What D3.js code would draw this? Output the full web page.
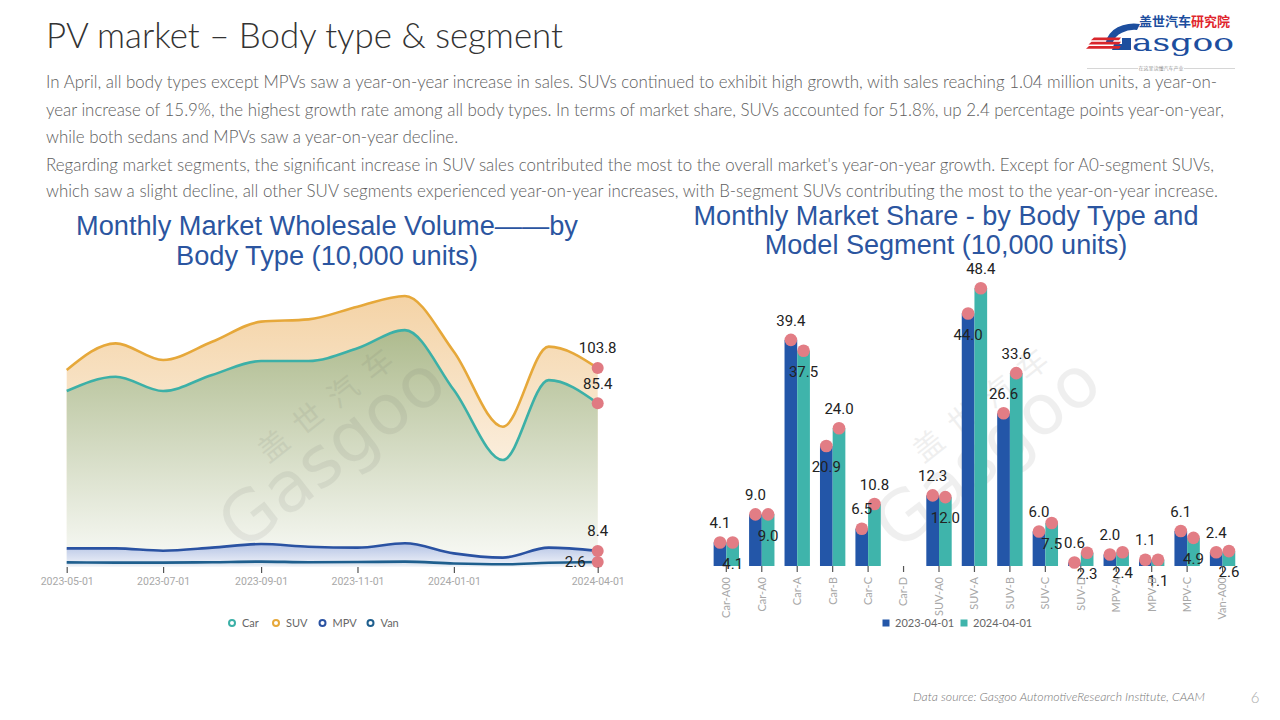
<!DOCTYPE html>
<html><head><meta charset="utf-8">
<script src="https://cdn.jsdelivr.net/npm/d3@7"></script>
<style>
html,body{margin:0;padding:0;background:#fff;}
svg{display:block;}
</style></head><body>
<svg id="c" width="1280" height="720"></svg>
<script>
// ---------- DATA ----------
const months = ["2023-05-01","2023-06-01","2023-07-01","2023-08-01","2023-09-01","2023-10-01",
                "2023-11-01","2023-12-01","2024-01-01","2024-02-01","2024-03-01","2024-04-01"];
const carVol = [91.8, 99.3, 91.8, 100.2, 107.5, 107.5, 114.1, 123.6, 92.3, 55.8, 97.5, 85.4];
const suvVol = [102.8, 116.7, 108.0, 117.5, 128.0, 129.2, 135.8, 141.4, 112.3, 73.2, 115.0, 103.8];
const mpvVol = [9.7, 9.7, 8.5, 10.1, 12.0, 10.6, 10.1, 12.4, 7.1, 4.9, 10.1, 8.4];
const vanVol = [2.4, 2.3, 2.3, 2.5, 2.8, 2.5, 2.6, 2.8, 1.8, 1.4, 2.2, 2.6];
const timeTicks = ["2023-05-01","2023-07-01","2023-09-01","2023-11-01","2024-01-01","2024-04-01"];
const bodySeries = ["Car","SUV","MPV","Van"];

const segments = ["Car-A00","Car-A0","Car-A","Car-B","Car-C","Car-D","SUV-A0","SUV-A","SUV-B",
                  "SUV-C","SUV-D","MPV-A","MPV-B","MPV-C","Van-A00"];
const seg2023 = [4.1, 9.0, 39.4, 20.9, 6.5, null, 12.3, 44.0, 26.6, 6.0, 0.6, 2.0, 1.1, 6.1, 2.4];
const seg2024 = [4.1, 9.0, 37.5, 24.0, 10.8, null, 12.0, 48.4, 33.6, 7.5, 2.3, 2.4, 1.1, 4.9, 2.6];
const segSeries = ["2023-04-01","2024-04-01"];

// label placement config (t = above point, b = below point)
const side2023 = ["t","t","t","b","t","t","t","b","t","t","t","t","t","t","t"];
const side2024 = ["b","b","b","t","t","b","b","t","t","b","b","b","b","b","b"];

const paragraph = [
 "In April, all body types except MPVs saw a year-on-year increase in sales. SUVs continued to exhibit high growth, with sales reaching 1.04 million units, a year-on-",
 "year increase of 15.9%, the highest growth rate among all body types. In terms of market share, SUVs accounted for 51.8%, up 2.4 percentage points year-on-year,",
 "while both sedans and MPVs saw a year-on-year decline.",
 "Regarding market segments, the significant increase in SUV sales contributed the most to the overall market's year-on-year growth. Except for A0-segment SUVs,",
 "which saw a slight decline, all other SUV segments experienced year-on-year increases, with B-segment SUVs contributing the most to the year-on-year increase."
];

// ---------- SETUP ----------
const svg = d3.select("#c");
const FONT = "Lato, 'Noto Sans', sans-serif";
const TFONT = "'Liberation Sans', Arial, sans-serif";
const NUMF = "Roboto, 'Noto Sans', sans-serif";
const defs = svg.append("defs");

function fitWidth(sel, w){
  const cur = sel.node().getComputedTextLength();
  const fs = parseFloat(sel.attr("font-size"));
  sel.attr("font-size", (fs*w/cur).toFixed(2));
  return sel;
}

// ---------- HEADER ----------
const title = svg.append("text").attr("x",46).attr("y",48).attr("font-family",FONT)
  .attr("font-weight",300).attr("font-size",32).attr("fill","#333")
  .text("PV market \u2013 Body type & segment");
fitWidth(title, 517);

const paraBase = [88, 115.5, 143, 170.5, 197];
const paraEnd = [1217, 1224, null, 1214, 1218];
let pfs = null;
paragraph.forEach((line,i)=>{
  const t = svg.append("text").attr("x",46).attr("y",paraBase[i]).attr("font-family",FONT)
    .attr("font-weight",300).attr("font-size",15).attr("fill","#5e5e5e").text(line);
  if(i===0){ fitWidth(t, paraEnd[0]-46); pfs = t.attr("font-size"); }
  else t.attr("font-size", pfs);
  if(paraEnd[i]) t.attr("textLength", paraEnd[i]-46).attr("lengthAdjust","spacing");
});

// logo
const logo = svg.append("g");
logo.append("text").attr("x",1139).attr("y",26).attr("font-family","'Noto Sans CJK SC'")
  .attr("font-weight",700).attr("font-size",13)
  .call(t=>{t.append("tspan").attr("fill","#1d4e9e").text("盖世汽车");
           t.append("tspan").attr("fill","#e0262d").text("研究院");});
logo.append("path").attr("d","M1106,42 A28,21 0 0 1 1140,24 L1137,30 A22,16 0 0 0 1113,42 Z").attr("fill","#1d4e9e");
logo.append("path").attr("d","M1112,50 L1131,50 L1131,38 L1122,38 L1122,44 L1114,44 Z").attr("fill","#1d4e9e");
[0,1,2].forEach(k=>{
  logo.append("path").attr("d",`M${1094-k*2.5},${37.5+k*4.3} L${1121},${37.5+k*4.3} L${1119},${40.2+k*4.3} L${1091-k*2.5},${40.2+k*4.3} Z`).attr("fill","#d9262c");
});
logo.append("text").attr("x",1132).attr("y",51).attr("font-family","'DejaVu Serif'")
  .attr("font-size",24).attr("fill","#1d4e9e").attr("textLength",102).attr("lengthAdjust","spacingAndGlyphs").text("asgoo");
logo.append("line").attr("x1",1087).attr("x2",1235).attr("y1",68.5).attr("y2",68.5).attr("stroke","#bbb").attr("stroke-width",0.6);
logo.append("rect").attr("x",1138).attr("y",65).attr("width",46).attr("height",7).attr("fill","#fff");
logo.append("text").attr("x",1161).attr("y",70).attr("text-anchor","middle").attr("font-family","'Noto Sans CJK SC'")
  .attr("font-size",5).attr("fill","#999").text("在这里读懂汽车产业");

// watermarks
function watermark(cx, cy){
  const g = svg.append("g").attr("transform",`translate(${cx},${cy}) rotate(-38)`).attr("opacity",0.085);
  g.append("text").attr("x",-20).attr("y",-34).attr("font-family","'Noto Sans CJK SC'").attr("font-size",30)
    .attr("letter-spacing",14).attr("fill","#555").text("盖世汽车");
  g.append("text").attr("x",-95).attr("y",20).attr("font-family","'DejaVu Sans'").attr("font-size",70)
    .attr("fill","#555").text("Gasgoo");
}

// ---------- LEFT CHART ----------
const parse = d3.timeParse("%Y-%m-%d");
const dates = months.map(parse);
const xL = d3.scaleTime().domain([parse(months[0]), parse(months[months.length-1])]).range([66.7, 597.7]);
const yL = d3.scaleLinear().domain([0,150]).range([567, 279.5]);

const lt1 = svg.append("text").attr("x",327).attr("y",235).attr("text-anchor","middle")
  .attr("font-family",TFONT).attr("font-size",26).attr("fill","#2b55a0")
  .text("Monthly Market Wholesale Volume\u2014\u2014by");
fitWidth(lt1, 502);
svg.append("text").attr("x",327).attr("y",265).attr("text-anchor","middle")
  .attr("font-family",TFONT).attr("font-size",lt1.attr("font-size")).attr("fill","#2b55a0")
  .text("Body Type (10,000 units)");

const colors = {Car:"#3cb0a7", SUV:"#e6a83a", MPV:"#2a52a2", Van:"#1f5f8e"};
const seriesVals = {Car:carVol, SUV:suvVol, MPV:mpvVol, Van:vanVol};

function grad(id, y1, y2, c1, c2){
  const g = defs.append("linearGradient").attr("id",id).attr("gradientUnits","userSpaceOnUse")
    .attr("x1",0).attr("x2",0).attr("y1",y1).attr("y2",y2);
  g.append("stop").attr("offset",0).attr("stop-color",c1);
  g.append("stop").attr("offset",1).attr("stop-color",c2);
}
grad("gSUV", yL(d3.max(suvVol)), yL(0), "#f4d3a6", "#ffffff");
grad("gCar", yL(d3.max(carVol)), yL(0), "#aebb8e", "#fafbf8");
grad("gMPV", yL(d3.max(mpvVol)), yL(0), "#b3c2e4", "#f3f5fa");
grad("gVan", yL(d3.max(vanVol)), yL(0), "#c9d6e6", "#f6f8fb");

const curve = d3.curveMonotoneX;
const area = vals => d3.area().x((d,i)=>xL(dates[i])).y0(yL(0)).y1(d=>yL(d)).curve(curve)(vals);
const line = vals => d3.line().x((d,i)=>xL(dates[i])).y(d=>yL(d)).curve(curve)(vals);

const L = svg.append("g");
L.append("path").attr("d",area(suvVol)).attr("fill","url(#gSUV)");
L.append("path").attr("d",area(carVol)).attr("fill","url(#gCar)");
L.append("path").attr("d",area(mpvVol)).attr("fill","url(#gMPV)");
L.append("path").attr("d",area(vanVol)).attr("fill","url(#gVan)");
watermark(305, 478);
["SUV","Car","MPV","Van"].forEach(k=>{
  L.append("path").attr("d",line(seriesVals[k])).attr("fill","none")
    .attr("stroke",colors[k]).attr("stroke-width",2.6);
});

// x axis (ticks + labels)
const xAxisL = d3.axisBottom(xL).tickValues(timeTicks.map(parse)).tickFormat(d3.timeFormat("%Y-%m-%d"))
  .tickSize(6).tickPadding(5);
const gxL = svg.append("g").attr("transform",`translate(0,${yL(0)})`).call(xAxisL);
gxL.select(".domain").remove();
gxL.selectAll(".tick line").attr("stroke","#555").attr("stroke-width",1.2);
gxL.selectAll(".tick text").attr("fill","#a8a8a8").attr("font-family",NUMF).attr("font-size",10.5);

// end markers & labels
const last = months.length-1;
const endX = xL(dates[last]);
bodySeries.forEach(k=>{
  const v = seriesVals[k][last];
  L.append("circle").attr("cx",endX).attr("cy",yL(v)).attr("r",6).attr("fill","#e07a82");
});
["SUV","Car","MPV"].forEach(k=>{
  const v = seriesVals[k][last];
  L.append("text").attr("x",endX).attr("y",yL(v)-20).attr("dy","0.35em").attr("text-anchor","middle")
    .attr("font-family",NUMF).attr("font-size",15).attr("fill","#222").text(v.toFixed(1));
});
{
  const v = vanVol[last];
  L.append("text").attr("x",endX-12).attr("y",yL(v)).attr("dy","0.35em").attr("text-anchor","end")
    .attr("font-family",NUMF).attr("font-size",15).attr("fill","#222").text(v.toFixed(1));
}

// legend
const legL = svg.append("g");
const legX = [232, 276, 322.5, 370.5];
bodySeries.forEach((k,i)=>{
  legL.append("circle").attr("cx",legX[i]).attr("cy",623).attr("r",3).attr("fill","#fff")
    .attr("stroke",colors[k]).attr("stroke-width",2);
  legL.append("text").attr("x",legX[i]+10).attr("y",623).attr("dy","0.35em").attr("font-family",FONT)
    .attr("font-size",11).attr("fill","#666").text(k);
});

// ---------- RIGHT CHART ----------
const rt1 = svg.append("text").attr("x",946).attr("y",225).attr("text-anchor","middle")
  .attr("font-family",TFONT).attr("font-size",26).attr("fill","#2b55a0")
  .text("Monthly Market Share - by Body Type and");
fitWidth(rt1, 505);
svg.append("text").attr("x",946).attr("y",253.5).attr("text-anchor","middle")
  .attr("font-family",TFONT).attr("font-size",rt1.attr("font-size")).attr("fill","#2b55a0")
  .text("Model Segment (10,000 units)");

const xR = d3.scaleBand().domain(segments).range([708.6, 1240.3]).padding(0);
const yR = d3.scaleLinear().domain([0,50]).range([566, 279]);
const bw = xR.bandwidth()*0.358;
const segColors = ["#2356a8","#3fb4ab"];

watermark(960, 478);

const R = svg.append("g");
const gxR = svg.append("g").attr("transform",`translate(0,${yR(0)})`)
  .call(d3.axisBottom(xR).tickSize(6).tickPadding(6));
gxR.select(".domain").remove();
gxR.selectAll(".tick line").attr("stroke","#555").attr("stroke-width",1.2);
gxR.selectAll(".tick text").attr("fill","#a8a8a8").attr("font-family",FONT).attr("font-size",11)
  .attr("transform","rotate(-90)").attr("text-anchor","end").attr("x",-11).attr("y",0).attr("dy","0.35em");

[seg2023, seg2024].forEach((vals, si)=>{
  vals.forEach((v,i)=>{
    if(v==null) return;
    const cx = xR(segments[i]) + xR.bandwidth()/2 + (si===0 ? -bw/2 : bw/2);
    R.append("rect").attr("x",cx-bw/2).attr("width",bw).attr("y",yR(v)).attr("height",yR(0)-yR(v))
      .attr("fill",segColors[si]);
  });
});
[seg2023, seg2024].forEach((vals, si)=>{
  vals.forEach((v,i)=>{
    if(v==null) return;
    const cx = xR(segments[i]) + xR.bandwidth()/2 + (si===0 ? -bw/2 : bw/2);
    R.append("circle").attr("cx",cx).attr("cy",yR(v)).attr("r",6.3).attr("fill","#e27d85");
  });
});
[seg2023, seg2024].forEach((vals, si)=>{
  const sides = si===0 ? side2023 : side2024;
  vals.forEach((v,i)=>{
    if(v==null) return;
    const cx = xR(segments[i]) + xR.bandwidth()/2 + (si===0 ? -bw/2 : bw/2);
    const off = sides[i]==="t" ? -19.5 : 21;
    R.append("text").attr("x",cx).attr("y",yR(v)+off).attr("dy","0.35em").attr("text-anchor","middle")
      .attr("font-family",NUMF).attr("font-size",15).attr("fill","#222").text(v.toFixed(1));
  });
});

// legend right
const legR = svg.append("g");
const legRX = [886, 964];
segSeries.forEach((s,i)=>{
  legR.append("rect").attr("x",legRX[i]-3.5).attr("y",619.5).attr("width",7).attr("height",7).attr("fill",segColors[i]);
  legR.append("text").attr("x",legRX[i]+9).attr("y",623).attr("dy","0.35em").attr("font-family",FONT)
    .attr("font-size",11).attr("fill","#666").text(s);
});

// ---------- FOOTER ----------
const foot = svg.append("text").attr("x",913).attr("y",701).attr("font-family",FONT).attr("font-style","italic")
  .attr("font-weight",300).attr("font-size",11).attr("fill","#777")
  .text("Data source: Gasgoo AutomotiveResearch Institute, CAAM");
fitWidth(foot, 292);
svg.append("text").attr("x",1255).attr("y",703).attr("text-anchor","middle").attr("font-family",FONT)
  .attr("font-weight",300).attr("font-size",15).attr("fill","#aaa").text("6");
</script>
</body></html>
